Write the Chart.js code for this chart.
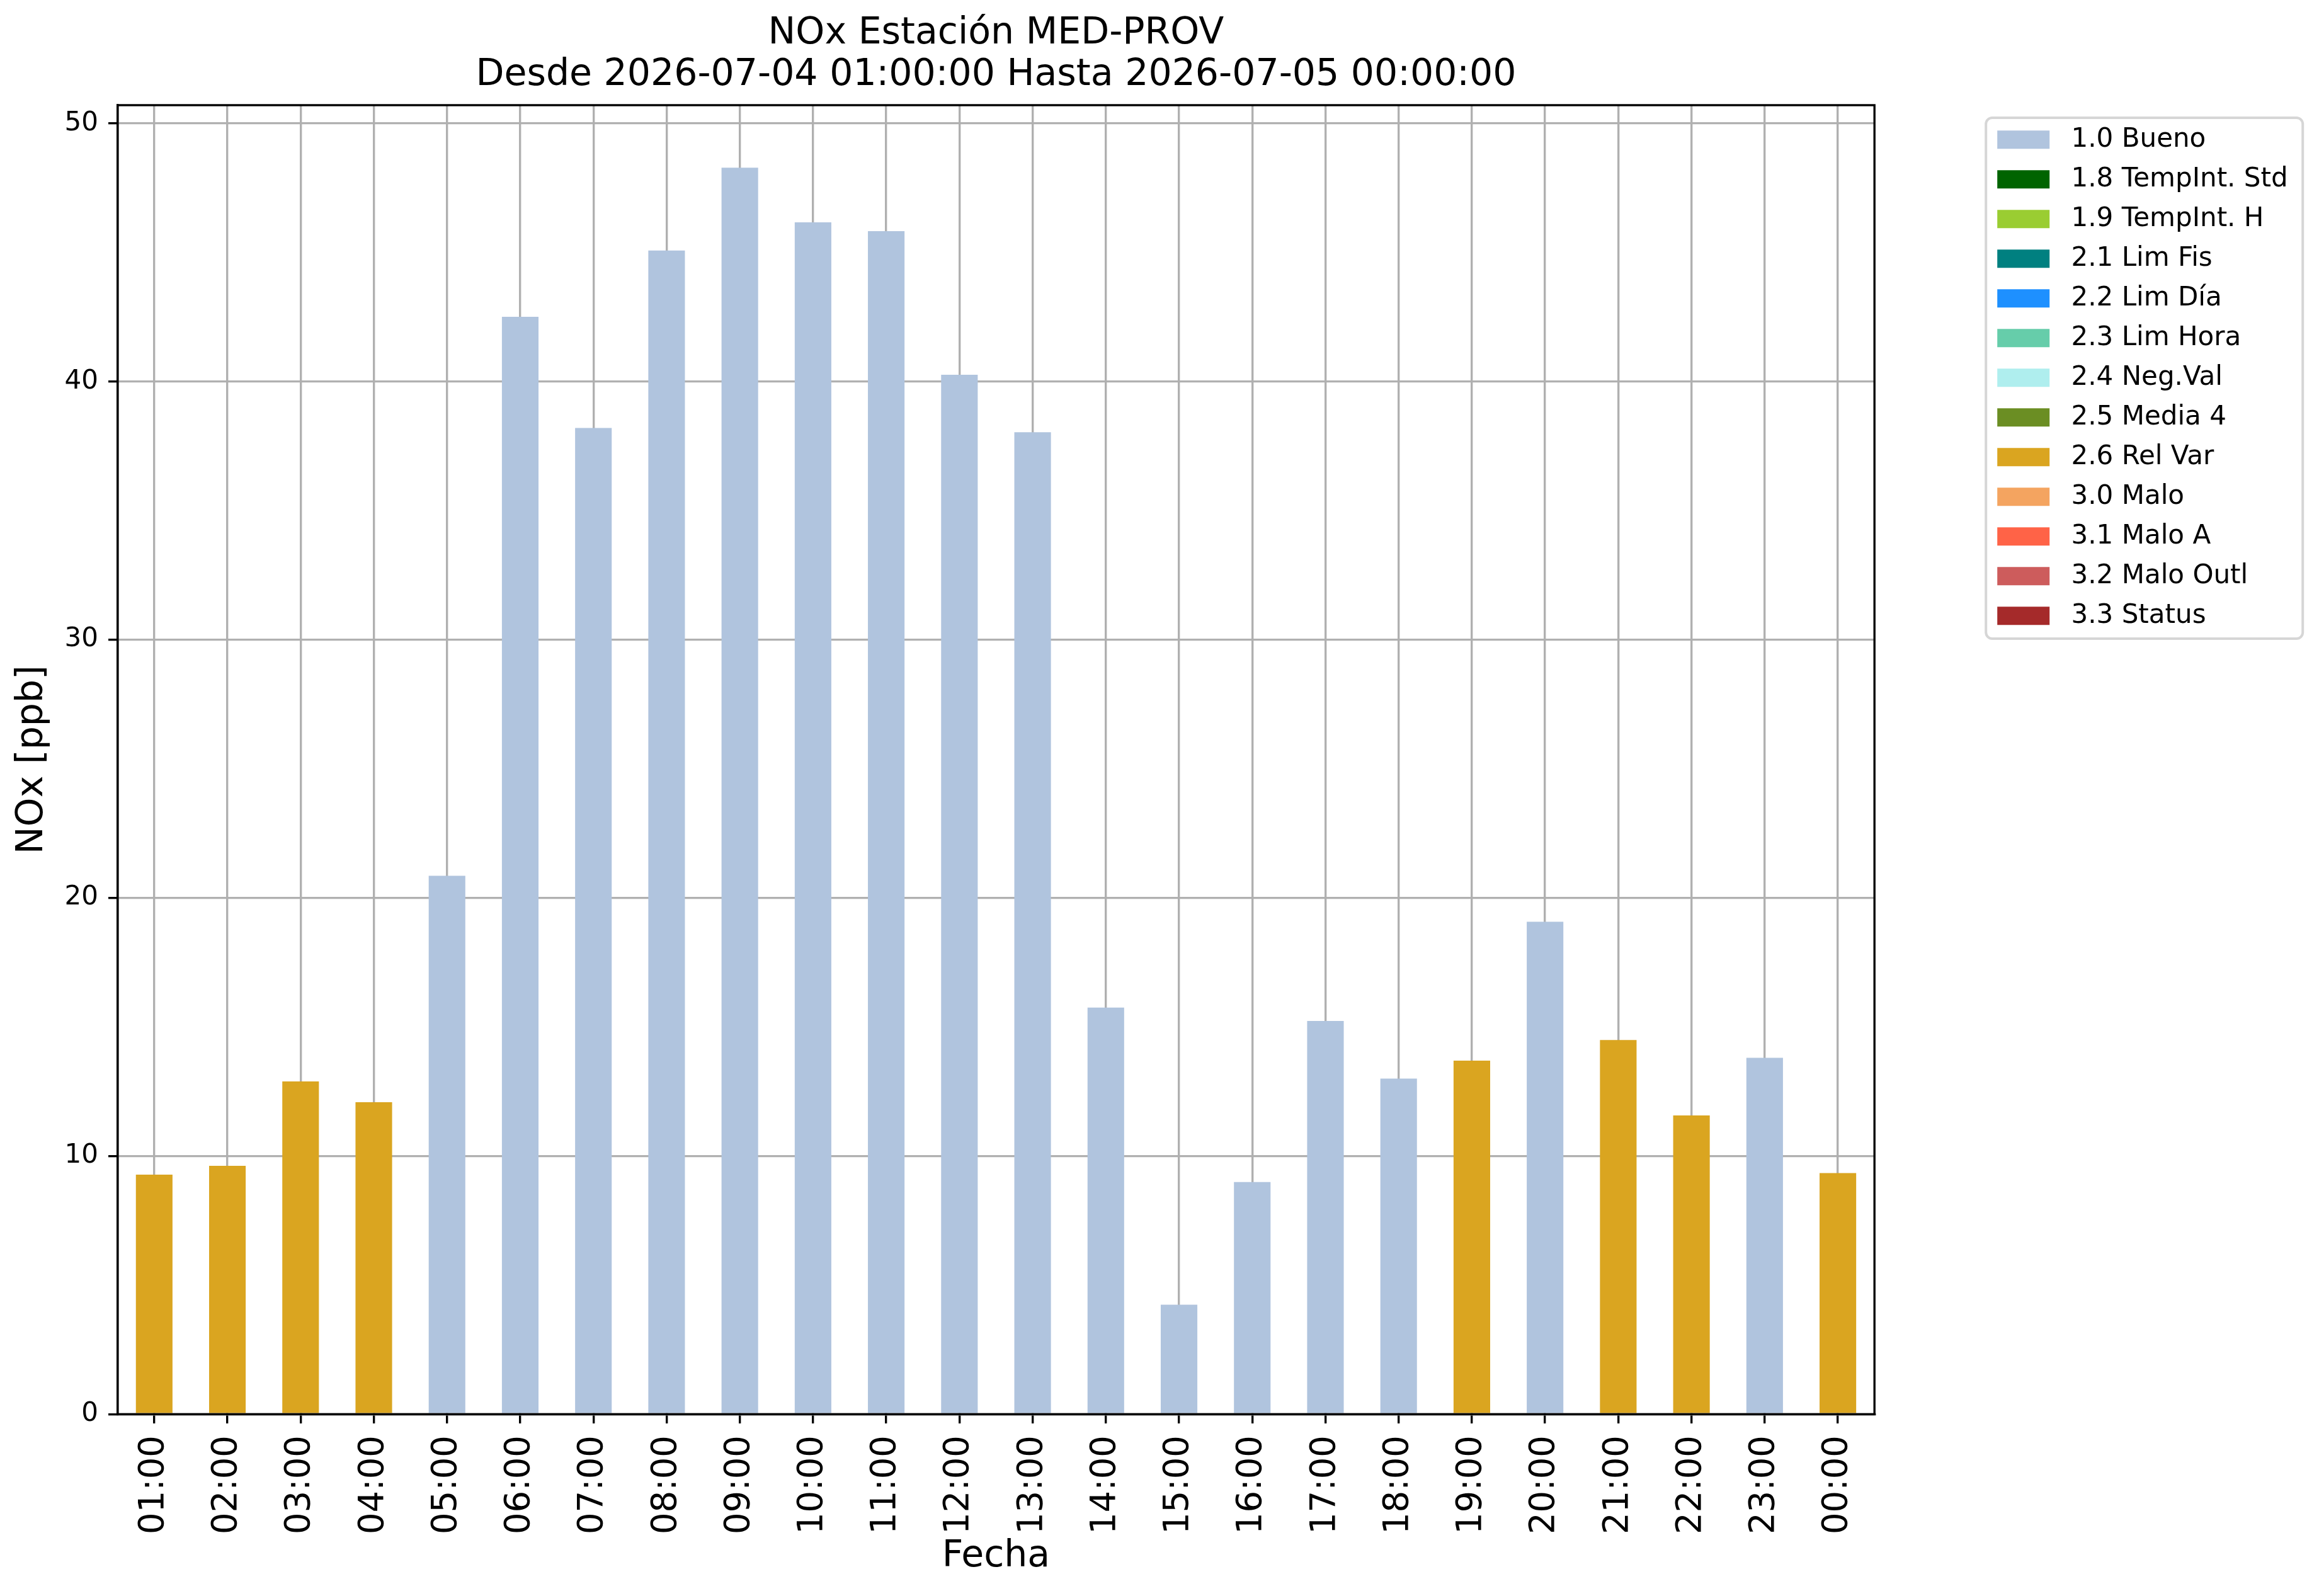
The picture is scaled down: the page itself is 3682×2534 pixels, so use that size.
<!DOCTYPE html>
<html>
<head>
<meta charset="utf-8">
<script src="https://cdn.jsdelivr.net/npm/chart.js@4.4.1/dist/chart.umd.min.js"></script>
<style>
  html, body { margin: 0; padding: 0; background: #ffffff; }
  #wrap { width: 3682px; height: 2534px; position: relative; }
</style>
</head>
<body>
<div id="wrap"><canvas id="c"></canvas></div>
<script>
// ---- data ----
const hours = ['01:00','02:00','03:00','04:00','05:00','06:00','07:00','08:00','09:00','10:00','11:00','12:00',
               '13:00','14:00','15:00','16:00','17:00','18:00','19:00','20:00','21:00','22:00','23:00','00:00'];
const noxValues = [9.28, 9.62, 12.89, 12.08, 20.85, 42.5, 38.2, 45.07, 48.28, 46.16, 45.82, 40.26,
                   38.03, 15.75, 4.24, 8.99, 15.23, 13.0, 13.69, 19.07, 14.49, 11.57, 13.8, 9.34];
const hourFlags = ['2.6','2.6','2.6','2.6','1.0','1.0','1.0','1.0','1.0','1.0','1.0','1.0',
                   '1.0','1.0','1.0','1.0','1.0','1.0','2.6','1.0','2.6','2.6','1.0','2.6'];
const flagCodes = ['1.0','1.8','1.9','2.1','2.2','2.3','2.4','2.5','2.6','3.0','3.1','3.2','3.3'];
const flagNames = ['1.0 Bueno','1.8 TempInt. Std','1.9 TempInt. H','2.1 Lim Fis','2.2 Lim Día','2.3 Lim Hora',
                   '2.4 Neg.Val','2.5 Media 4','2.6 Rel Var','3.0 Malo','3.1 Malo A','3.2 Malo Outl','3.3 Status'];
const flagColors = ['#B0C4DE','#006400','#9ACD32','#008080','#1E90FF','#66CDAA','#AFEEEE','#6B8E23',
                    '#DAA520','#F4A460','#FF6347','#CD5C5C','#A52A2A'];
const yTickStep = 10;
const yMax = 50.7;
const titleLines = ['NOx Estación MED-PROV', 'Desde 2026-07-04 01:00:00 Hasta 2026-07-05 00:00:00'];
const xTitle = 'Fecha';
const yTitle = 'NOx [ppb]';

// ---- build datasets ----
const datasets = flagCodes.map((code, k) => ({
  label: flagNames[k],
  data: noxValues.map((v, i) => hourFlags[i] === code ? v : null),
  backgroundColor: flagColors[k],
  borderWidth: 0,
  barPercentage: 0.5,
  categoryPercentage: 1.0
}));

const LW = 3.36;
const FONT = 'DejaVu Sans';
const LEG_FONT = 42, LEG_BOX = 83, LEG_PAD = 21;
Chart.defaults.color = '#000000';
Chart.defaults.font.family = FONT;

// legend width as Chart.js computes it, so the plot area ends where wanted
const mctx = document.createElement('canvas').getContext('2d');
mctx.font = LEG_FONT + 'px "' + FONT + '"';
const widest = Math.max(...flagNames.map(n => mctx.measureText(' ' + n).width));
const legendW = LEG_PAD + LEG_BOX + LEG_FONT / 2 + widest + 10;
const plotRight = 2976.2, spacerW = 174;
const padRight = Math.max(0, 3682 - plotRight - spacerW - legendW);

const framePlugin = {
  id: 'frames',
  afterDraw(chart) {
    const ctx = chart.ctx;
    const a = chart.chartArea;
    ctx.save();
    ctx.strokeStyle = '#000000';
    ctx.lineWidth = LW;
    ctx.strokeRect(a.left, a.top, a.right - a.left, a.bottom - a.top);
    const lg = chart.legend;
    const x = lg.left + 3, y = lg.top + 20, w = 503, h = 827, r = 10;
    ctx.strokeStyle = '#d6d6d6';
    ctx.lineWidth = 4;
    ctx.beginPath();
    ctx.moveTo(x + r, y);
    ctx.lineTo(x + w - r, y);
    ctx.arcTo(x + w, y, x + w, y + r, r);
    ctx.lineTo(x + w, y + h - r);
    ctx.arcTo(x + w, y + h, x + w - r, y + h, r);
    ctx.lineTo(x + r, y + h);
    ctx.arcTo(x, y + h, x, y + h - r, r);
    ctx.lineTo(x, y + r);
    ctx.arcTo(x, y, x + r, y, r);
    ctx.closePath();
    ctx.stroke();
    ctx.restore();
  }
};

new Chart(document.getElementById('c'), {
  type: 'bar',
  data: { labels: hours, datasets: datasets },
  plugins: [framePlugin],
  options: {
    responsive: true,
    maintainAspectRatio: false,
    devicePixelRatio: 1,
    animation: false,
    layout: { padding: { left: 0, right: padRight, top: 0, bottom: 0 } },
    plugins: {
      tooltip: { enabled: false },
      title: {
        display: true,
        fullSize: false,
        text: titleLines,
        color: '#000000',
        font: { family: FONT, size: 58.5, weight: 'normal', lineHeight: 1.14 },
        padding: { top: 20, bottom: 13.6 }
      },
      legend: {
        display: true,
        position: 'right',
        align: 'start',
        fullSize: false,
        title: { display: true, text: '', font: { size: 10, lineHeight: 1 }, padding: { top: 0, bottom: 2.7 } },
        labels: {
          boxWidth: LEG_BOX,
          boxHeight: 29,
          padding: LEG_PAD,
          color: '#000000',
          font: { family: FONT, size: LEG_FONT },
          generateLabels(chart) {
            return Chart.defaults.plugins.legend.labels.generateLabels(chart).map(l => Object.assign(l, { text: ' ' + l.text }));
          }
        }
      }
    },
    scales: {
      x: {
        stacked: true,
        offset: true,
        z: 1,
        grid: { offset: false, color: '#b0b0b0', lineWidth: LW, tickColor: '#000000', tickWidth: LW, tickLength: 14.7 },
        border: { display: true, color: '#000000', width: LW },
        ticks: { autoSkip: false, minRotation: 90, maxRotation: 90, padding: 19, color: '#000000', font: { family: FONT, size: 54.5 } },
        title: { display: true, text: xTitle, color: '#000000', font: { family: FONT, size: 58.5, lineHeight: 1.2 }, padding: { top: 0, bottom: 27 } },
        afterFit(scale) { scale.height = 288.7; }
      },
      y: {
        stacked: true,
        min: 0,
        max: yMax,
        z: 1,
        grid: { color: '#b0b0b0', lineWidth: LW, tickColor: '#000000', tickWidth: LW, tickLength: 14.7 },
        border: { display: true, color: '#000000', width: LW },
        ticks: { stepSize: yTickStep, includeBounds: false, padding: 16, color: '#000000', font: { family: FONT, size: 42 } },
        title: { display: true, text: yTitle, color: '#000000', font: { family: FONT, size: 58.5, lineHeight: 1.2 }, padding: { top: 17, bottom: 0 } },
        afterFit(scale) { scale.width = 186.7; }
      },
      spacer: {
        type: 'linear',
        position: 'right',
        display: true,
        grid: { display: false, drawTicks: false },
        border: { display: false },
        ticks: { display: false },
        title: { display: false },
        afterFit(scale) { scale.width = spacerW; }
      }
    }
  }
});
</script>
</body>
</html>
